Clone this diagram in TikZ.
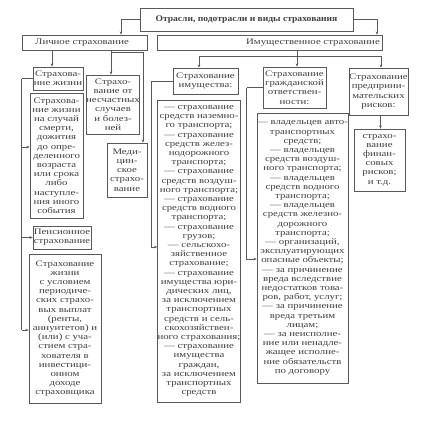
\documentclass[tikz,border=0pt]{standalone}
\usepackage{fontspec}
\setmainfont{Liberation Serif}[FakeStretch=1.27]
\newfontfamily\titlefont{Liberation Serif}[FakeStretch=1.1]
\usetikzlibrary{arrows.meta}
\definecolor{ink}{gray}{0.25}
\definecolor{rule}{gray}{0.35}
\tikzset{
  box/.style={draw=rule, line width=0.6pt, inner sep=0pt, align=center, text=ink,
    font=\fontsize{8.5}{9.2}\selectfont},
  ln/.style={draw=rule, line width=0.6pt},
  arr/.style={ln, -{Stealth[length=3.2pt,width=2.6pt]}}
}
\newcommand{\bx}[6]{\node[box, minimum width=#4pt, minimum height=#5pt] (#1) at (#2,#3) {#6};}
\begin{document}
\begin{tikzpicture}[x=1pt,y=-1pt]
\useasboundingbox (0,0) rectangle (424,421);
% boxes
\node[box, minimum width=213pt, minimum height=23pt, font=\titlefont\bfseries\fontsize{8.7}{9.4}\selectfont] (top) at (246.5,19.5) {Отрасли, подотрасли и виды страхования};
\node[box, minimum width=125pt, minimum height=15pt] (lich) at (84.5,42.5) {};
\node[text=ink, font=\fontsize{8.5}{9.4}\selectfont] (lichT) at (82,42.5) {Личное страхование};
\node[box, minimum width=225pt, minimum height=15pt] (imush) at (269.5,42.5) {};
\node[text=ink, font=\fontsize{8.5}{9.4}\selectfont] (imushT) at (313,42.5) {Имущественное страхование};
\bx{zhizn}{58}{78.5}{50}{23}{Страхова-\\ние жизни}
\bx{nesch}{113}{104.5}{48}{59}{Страхо-\\вание от\\несчастных\\случаев\\и болез-\\ней}
\bx{zhizn2}{56.5}{155.5}{53}{125}{Страхова-\\ние жизни\\на случай\\смерти,\\дожития\\до опре-\\деленного\\возраста\\или срока\\либо\\наступле-\\ния иного\\события}
\bx{med}{127}{170}{40}{54}{Меди-\\цин-\\ское\\страхо-\\вание}
\bx{pens}{62}{237.5}{58}{23}{Пенсионное\\страхование}
\bx{pens2}{65}{328.5}{72}{149}{Страхование\\жизни\\с условием\\периодиче-\\ских страхо-\\вых выплат\\(ренты,\\аннуитетов) и\\(или) с уча-\\стием стра-\\хователя в\\инвестици-\\онном\\доходе\\страховщика}
\bx{imushch}{205.5}{81}{65}{26}{Страхование\\имущества:}
\bx{imushch2}{199}{251}{82}{302}{— страхование\\средств наземно-\\го транспорта;\\— страхование\\средств желез-\\нодорожного\\транспорта;\\— страхование\\средств воздуш-\\ного транспорта;\\— страхование\\средств водного\\транспорта;\\— страхование\\грузов;\\— сельскохо-\\зяйственное\\страхование;\\— страхование\\имущества юри-\\дических лиц,\\за исключением\\транспортных\\средств и сель-\\скохозяйствен-\\ного страхования;\\— страхование\\имущества\\граждан,\\за исключением\\транспортных\\средств}
\bx{grazh}{294.5}{87.5}{63}{41}{Страхование\\гражданской\\ответствен-\\ности:}
\bx{grazh2}{302.5}{248}{91}{270}{— владельцев авто-\\транспортных\\средств;\\— владельцев\\средств воздуш-\\ного транспорта;\\— владельцев\\средств водного\\транспорта;\\— владельцев\\средств железно-\\дорожного\\транспорта;\\— организаций,\\эксплуатирующих\\опасные объекты;\\— за причинение\\вреда вследствие\\недостатков това-\\ров, работ, услуг;\\— за причинение\\вреда третьим\\лицам;\\— за неисполне-\\ние или ненадле-\\жащее исполне-\\ние обязательств\\по договору}
\bx{pred}{378.5}{91.5}{59}{47}{Страхование\\предприни-\\мательских\\рисков:}
\bx{fin}{379.5}{160}{51}{62}{страхо-\\вание\\финан-\\совых\\рисков;\\и т.д.}
% top connectors
\draw[arr] (top.west) -| ([xshift=36.5pt]lich.north);
\draw[arr] (top.east) -| ([xshift=107.5pt]imush.north);
% personal insurance
\draw[arr] ([xshift=-32.5pt]lich.south) -- ([xshift=-6pt]zhizn.north);
\draw[arr] ([xshift=26.5pt]lich.south) -- ([xshift=-2pt]nesch.north);
\draw[arr] ([xshift=26.5pt,yshift=-2pt]lich.south) -| ([xshift=16pt]med.north);
\draw[ln] (zhizn.west) -- ++(-11,0) coordinate (sp1);
\coordinate (z2a) at ([yshift=8.5pt]zhizn2.west);
\coordinate (p2a) at ([yshift=-1.5pt]pens2.west);
\draw[ln] (sp1) -- (sp1 |- p2a);
\draw[arr] (sp1 |- z2a) -- (z2a);
\draw[arr] (sp1 |- pens.west) -- (pens.west);
\draw[arr] (sp1 |- p2a) -- (p2a);
% property insurance
\draw[ln] ([xshift=27.5pt]imush.south) -- ++(0,6) coordinate (hb);
\draw[arr] (hb) -| ([xshift=-6.5pt]imushch.north);
\draw[arr] (hb) -| ([xshift=2.5pt]pred.north);
\draw[arr] (hb) -- ([xshift=2.5pt]grazh.north);
\draw[arr] ([xshift=2pt]pred.south) -- ([xshift=1pt]fin.north);
\coordinate (i2a) at ([yshift=4pt]imushch2.west);
\draw[ln] (imushch.west) -- ++(-21,0) coordinate (sp2);
\draw[arr] (sp2) |- (i2a);
\coordinate (g2a) at ([yshift=-11pt]grazh2.west);
\draw[ln] (grazh.west) -- ++(-16,0) coordinate (sp3);
\draw[arr] (sp3) |- (g2a);
\end{tikzpicture}
\end{document}
